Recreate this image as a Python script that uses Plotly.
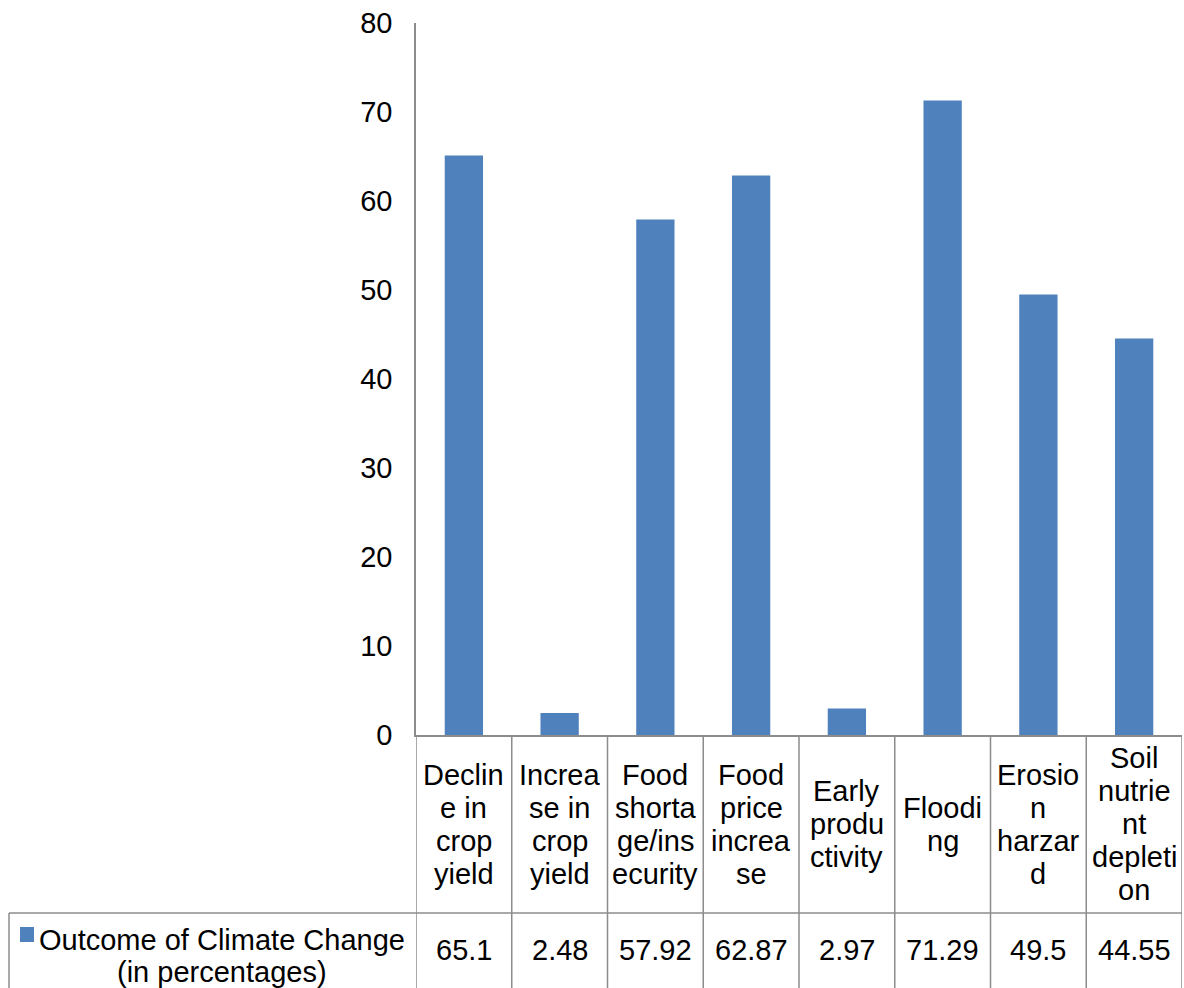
import plotly.graph_objects as go

# Survey results: outcome of climate change (in percentages)
categories = [
    "Decline in crop yield",
    "Increase in crop yield",
    "Food shortage/insecurity",
    "Food price increase",
    "Early productivity",
    "Flooding",
    "Erosion harzard",
    "Soil nutrient depletion",
]
# Wrapped header text as it appears in the data table cells
category_lines = [
    ["Declin", "e in", "crop", "yield"],
    ["Increa", "se in", "crop", "yield"],
    ["Food", "shorta", "ge/ins", "ecurity"],
    ["Food", "price", "increa", "se"],
    ["Early", "produ", "ctivity"],
    ["Floodi", "ng"],
    ["Erosio", "n", "harzar", "d"],
    ["Soil", "nutrie", "nt", "depleti", "on"],
]
values = [65.1, 2.48, 57.92, 62.87, 2.97, 71.29, 49.5, 44.55]
series_name = ["Outcome of Climate Change", "(in percentages)"]
y_ticks = [0, 10, 20, 30, 40, 50, 60, 70, 80]

W, H = 1184, 988
PLOT_L, PLOT_R, PLOT_T, PLOT_B = 416, 1182, 23, 735
BAR_COLOR = "#4F81BD"
LINE_COLOR = "#8C8C8C"
FONT = "Liberation Sans, Arial, sans-serif"
FS = 29


def py(px):
    """Pixel row -> paper y."""
    return (PLOT_B - px) / (PLOT_B - PLOT_T)


def px_x(px):
    """Pixel column -> paper x."""
    return (px - PLOT_L) / (PLOT_R - PLOT_L)


idx = list(range(len(categories)))

fig = go.Figure(
    go.Bar(
        x=idx,
        y=values,
        marker=dict(color=BAR_COLOR, line=dict(width=0)),
        name=" ".join(series_name),
        showlegend=False,
    )
)

shapes = []
annotations = []

# Table: vertical cell borders between categories
for i in range(len(categories) + 1):
    shapes.append(dict(
        type="line", xref="x", yref="paper",
        x0=i - 0.5, x1=i - 0.5, y0=py(PLOT_B), y1=py(H + 5),
        line=dict(color=LINE_COLOR, width=1.5),
    ))
# Row separator between header and values
shapes.append(dict(
    type="line", xref="paper", yref="paper",
    x0=px_x(9), x1=px_x(PLOT_R), y0=py(913), y1=py(913),
    line=dict(color=LINE_COLOR, width=1.5),
))
# Left border of the series-name cell
shapes.append(dict(
    type="line", xref="paper", yref="paper",
    x0=px_x(9), x1=px_x(9), y0=py(913), y1=py(H + 5),
    line=dict(color=LINE_COLOR, width=1.5),
))
# Legend key
shapes.append(dict(
    type="rect", xref="paper", yref="paper",
    x0=px_x(20), x1=px_x(34), y0=py(942), y1=py(927),
    fillcolor=BAR_COLOR, line=dict(width=0),
))

# Header cell text, line by line, centred vertically in the cell
HEADER_MID = (PLOT_B + 913) / 2
LINE_H = 33
for i, lines in enumerate(category_lines):
    n = len(lines)
    for k, t in enumerate(lines):
        ypx = HEADER_MID + (k - (n - 1) / 2) * LINE_H
        annotations.append(dict(
            x=i, xref="x", y=py(ypx), yref="paper",
            text=t, showarrow=False, xanchor="center", yanchor="middle",
            font=dict(family=FONT, size=FS, color="black"),
        ))

# Value row
for i, v in enumerate(values):
    annotations.append(dict(
        x=i, xref="x", y=py(950), yref="paper",
        text=str(v), showarrow=False, xanchor="center", yanchor="middle",
        font=dict(family=FONT, size=FS, color="black"),
    ))

# Series name cell
for k, t in enumerate(series_name):
    annotations.append(dict(
        x=px_x(222), xref="paper", y=py(940 + k * 32), yref="paper",
        text=t, showarrow=False, xanchor="center", yanchor="middle",
        font=dict(family=FONT, size=FS, color="black"),
    ))

fig.update_layout(
    width=W, height=H,
    margin=dict(l=PLOT_L, r=W - PLOT_R, t=PLOT_T, b=H - PLOT_B, pad=0),
    paper_bgcolor="white", plot_bgcolor="white",
    bargap=0.6,
    shapes=shapes,
    annotations=annotations,
    font=dict(family=FONT, size=FS, color="black"),
)
fig.update_xaxes(
    range=[-0.5, len(categories) - 0.5],
    showticklabels=False, ticks="", showgrid=False, zeroline=False,
    showline=True, linecolor=LINE_COLOR, linewidth=1.5,
)
fig.update_yaxes(
    range=[0, 80], tickvals=y_ticks, ticks="", showgrid=False, zeroline=False,
    showline=True, linecolor=LINE_COLOR, linewidth=1.5,
    tickfont=dict(family=FONT, size=FS, color="black"),
    ticklabelstandoff=16,
)

fig.write_html("out.html")
